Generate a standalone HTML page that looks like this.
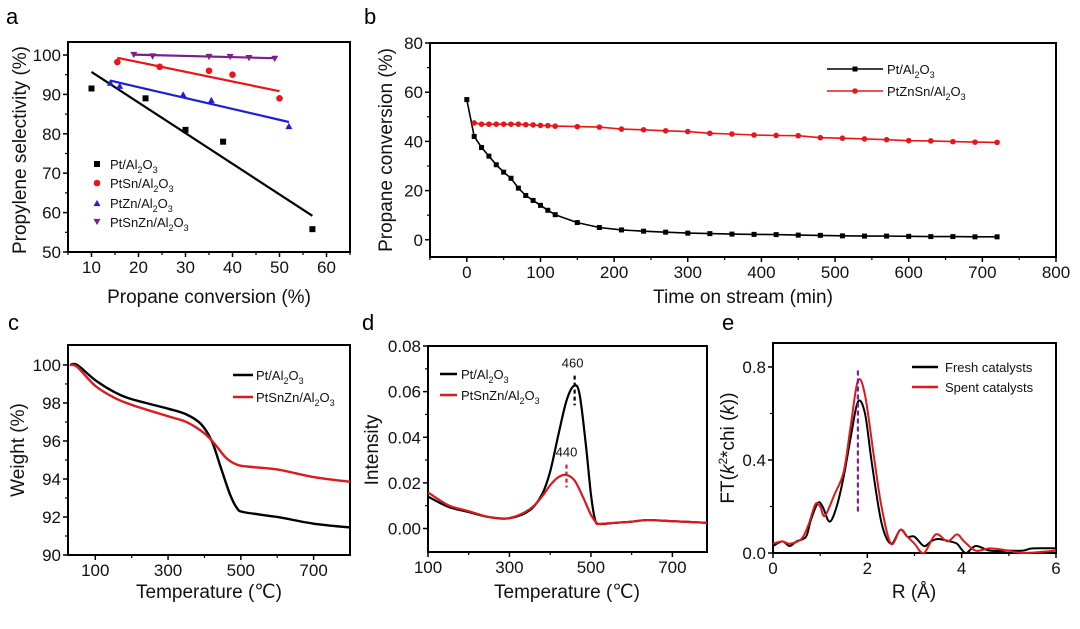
<!DOCTYPE html>
<html><head><meta charset="utf-8"><style>
html,body{margin:0;padding:0;background:#fff;}
svg{display:block;font-family:"Liberation Sans",Arial,sans-serif;}
</style></head><body>
<svg id="s" width="1080" height="629" viewBox="0 0 1080 629" xmlns="http://www.w3.org/2000/svg">
<rect width="1080" height="629" fill="#fff"/>
<g font-size="22" fill="#000">
<text x="6" y="24">a</text><text x="364" y="24">b</text>
<text x="8" y="330">c</text><text x="362" y="330">d</text><text x="722" y="330">e</text>
</g>
<g font-size="19" fill="#111" text-anchor="middle">
<text x="209" y="303">Propane conversion (%)</text>
<text transform="translate(26,150) rotate(-90)">Propylene selectivity (%)</text>
<text x="743" y="303">Time on stream (min)</text>
<text transform="translate(392,150) rotate(-90)">Propane conversion (%)</text>
<text x="209" y="598">Temperature (℃)</text>
<text transform="translate(24,450) rotate(-90)">Weight (%)</text>
<text x="567" y="598">Temperature (℃)</text>
<text transform="translate(378,450) rotate(-90)">Intensity</text>
<text x="914" y="598">R (Å)</text>
<text transform="translate(734,448) rotate(-90)">FT(<tspan font-style="italic">k</tspan><tspan font-size="12" dy="-7">2</tspan><tspan dy="7">*chi (</tspan><tspan font-style="italic">k</tspan>))</text>
</g>
<g id="plots"></g>
</svg>
<script>
var NS="http://www.w3.org/2000/svg",G=document.getElementById("plots");
function el(t,a,txt){var e=document.createElementNS(NS,t);for(var k in a)e.setAttribute(k,a[k]);if(txt!==undefined)e.textContent=txt;G.appendChild(e);return e;}
function P(c){
 var sx=function(v){return c.L+(v-c.x0)/(c.x1-c.x0)*(c.R-c.L)},sy=function(v){return c.B-(v-c.y0)/(c.y1-c.y0)*(c.B-c.T)};
 c.sx=sx;c.sy=sy;
 el("rect",{x:c.L,y:c.T,width:c.R-c.L,height:c.B-c.T,fill:"none",stroke:"#000","stroke-width":2});
 c.xt.forEach(function(v){var x=sx(v);el("line",{x1:x,y1:c.B,x2:x,y2:c.B+5,stroke:"#000","stroke-width":1.5});el("text",{x:x,y:c.B+21,"font-size":17,"text-anchor":"middle",fill:"#111"},c.xf?c.xf(v):v);});
 (c.xm||[]).forEach(function(v){var x=sx(v);el("line",{x1:x,y1:c.B,x2:x,y2:c.B+3,stroke:"#000","stroke-width":1.2});});
 c.yt.forEach(function(v){var y=sy(v);el("line",{x1:c.L-5,y1:y,x2:c.L,y2:y,stroke:"#000","stroke-width":1.5});el("text",{x:c.L-7,y:y+6,"font-size":17,"text-anchor":"end",fill:"#111"},c.yf?c.yf(v):v);});
 (c.ym||[]).forEach(function(v){var y=sy(v);el("line",{x1:c.L-3,y1:y,x2:c.L,y2:y,stroke:"#000","stroke-width":1.2});});
 return c;
}
function line(c,pts,col,w,dash){var d=pts.map(function(p,i){return (i?"L":"M")+c.sx(p[0]).toFixed(1)+","+c.sy(p[1]).toFixed(1)}).join("");var a={d:d,fill:"none",stroke:col,"stroke-width":w||2,"stroke-linejoin":"round"};if(dash)a["stroke-dasharray"]=dash;el("path",a);}
function sq(x,y,s,col){el("rect",{x:x-s/2,y:y-s/2,width:s,height:s,fill:col});}
function ci(x,y,r,col){el("circle",{cx:x,cy:y,r:r,fill:col});}
function tri(x,y,s,col,down){var h=s*0.9;var p=down?[[x-s/2,y-h/2],[x+s/2,y-h/2],[x,y+h/2]]:[[x-s/2,y+h/2],[x+s/2,y+h/2],[x,y-h/2]];el("polygon",{points:p.map(function(q){return q.join(",")}).join(" "),fill:col});}
function leg(x,y,txt){var t=el("text",{x:x,y:y+5,"font-size":13,fill:"#111"});t.innerHTML=txt;}
var AL='Al<tspan font-size="9" dy="4">2</tspan><tspan dy="-4">O</tspan><tspan font-size="9" dy="4">3</tspan>';
function rng(a,b,s){var r=[];for(var v=a;v<=b+1e-9;v+=s)r.push(Math.round(v*1000)/1000);return r;}

// a
var a=P({L:68,R:350,T:42,B:252,x0:5,x1:65,y0:50,y1:103.3,xt:[10,20,30,40,50,60],xm:rng(5,65,10),yt:[50,60,70,80,90,100],ym:rng(55,95,10)});
line(a,[[10,95.7],[57,59.2]],"#000",2.2);line(a,[[15.5,99.3],[50,90.8]],"#e8161b",2.2);line(a,[[14,93.5],[52,83]],"#1f1fd6",2.2);line(a,[[19,100.1],[49,99.2]],"#7b1f8a",2.2);
[[10,91.5],[21.5,89],[30,81],[38,78],[57,55.8]].forEach(function(p){sq(a.sx(p[0]),a.sy(p[1]),6,"#000")});
[[15.5,98.2],[24.5,97],[35,96],[40,95],[50,89]].forEach(function(p){ci(a.sx(p[0]),a.sy(p[1]),3.3,"#e8161b")});
[[14,93],[16,92.2],[29.5,90],[35.5,88.6],[52,82]].forEach(function(p){tri(a.sx(p[0]),a.sy(p[1]),7,"#1f1fd6")});
[[19,100],[23,99.6],[35,99.5],[39.5,99.5],[43.5,99.2],[49,99]].forEach(function(p){tri(a.sx(p[0]),a.sy(p[1]),7,"#7b1f8a",true)});
sq(97,164,6,"#000");leg(110,164,"Pt/"+AL);ci(97,183,3.3,"#e8161b");leg(110,183,"PtSn/"+AL);tri(97,203,7,"#1f1fd6");leg(110,203,"PtZn/"+AL);tri(97,222,7,"#7b1f8a",true);leg(110,222,"PtSnZn/"+AL);

// b
var b=P({L:430,R:1056,T:43,B:257,x0:-50,x1:800,y0:-7,y1:80,xt:[0,100,200,300,400,500,600,700,800],xm:rng(-50,750,100),yt:[0,20,40,60,80],ym:[10,30,50,70]});
var bk=[[0,57],[10,42],[20,37.5],[30,34],[40,30.5],[50,27.5],[60,25],[70,21],[80,18],[90,16],[100,14],[110,12],[120,10.2],[150,7],[180,5],[210,4],[240,3.5],[270,3.1],[300,2.7],[330,2.5],[360,2.3],[390,2.2],[420,2.1],[450,1.9],[480,1.8],[510,1.6],[540,1.5],[570,1.5],[600,1.4],[630,1.3],[660,1.3],[690,1.2],[720,1.2]];
var rd=[[10,47.5],[20,47],[30,47],[40,47],[50,47],[60,47],[70,47],[80,46.8],[90,46.7],[100,46.5],[110,46.4],[120,46.2],[150,46],[180,45.8],[210,45],[240,44.7],[270,44.3],[300,44],[330,43.3],[360,43],[390,42.6],[420,42.4],[450,42.3],[480,41.5],[510,41.3],[540,41],[570,40.7],[600,40.3],[630,40.2],[660,39.9],[690,39.7],[720,39.6]];
line(b,bk,"#000",1.6);bk.forEach(function(p){sq(b.sx(p[0]),b.sy(p[1]),5,"#000")});
line(b,rd,"#e8161b",1.6);rd.forEach(function(p){ci(b.sx(p[0]),b.sy(p[1]),2.8,"#e8161b")});
el("line",{x1:827,y1:69,x2:883,y2:69,stroke:"#000","stroke-width":1.6});sq(855,69,5,"#000");leg(887,69,"Pt/"+AL);
el("line",{x1:827,y1:91,x2:883,y2:91,stroke:"#e8161b","stroke-width":1.6});ci(855,91,2.8,"#e8161b");leg(887,91,"PtZnSn/"+AL);

// c
var c=P({L:68,R:350,T:345,B:555,x0:25,x1:800,y0:90,y1:101.05,xt:[100,300,500,700],xm:[200,400,600],yt:[90,92,94,96,98,100],ym:[91,93,95,97,99]});
function smooth(c,pts,col,w){var d="",n=pts.length;for(var i=0;i<n;i++){var p=[c.sx(pts[i][0]),c.sy(pts[i][1])];if(!i){d="M"+p;continue;}var p0=i>1?[c.sx(pts[i-2][0]),c.sy(pts[i-2][1])]:[c.sx(pts[i-1][0]),c.sy(pts[i-1][1])],p1=[c.sx(pts[i-1][0]),c.sy(pts[i-1][1])],p3=i<n-1?[c.sx(pts[i+1][0]),c.sy(pts[i+1][1])]:p;var c1=[p1[0]+(p[0]-p0[0])/6,p1[1]+(p[1]-p0[1])/6],c2=[p[0]-(p3[0]-p1[0])/6,p[1]-(p3[1]-p1[1])/6];d+="C"+c1+" "+c2+" "+p;}el("path",{d:d,fill:"none",stroke:col,"stroke-width":w,"stroke-linejoin":"round"});}
smooth(c,[[30,100],[50,100],[100,99.2],[150,98.6],[200,98.2],[300,97.7],[350,97.4],[390,96.9],[420,96.0],[445,94.6],[470,93.2],[490,92.45],[510,92.25],[600,92.0],[700,91.65],[800,91.45]],"#000",2.4);
smooth(c,[[30,100],[50,99.9],[100,98.9],[150,98.3],[200,97.9],[300,97.3],[350,97.0],[400,96.4],[430,95.8],[460,95.1],[490,94.75],[520,94.65],[600,94.5],[700,94.1],[800,93.85]],"#d91a1f",2.4);
el("line",{x1:233,y1:375,x2:253,y2:375,stroke:"#000","stroke-width":2.4});leg(256,375,"Pt/"+AL);
el("line",{x1:233,y1:397,x2:253,y2:397,stroke:"#d91a1f","stroke-width":2.4});leg(256,397,"PtSnZn/"+AL);

// d
var d=P({L:428,R:707,T:346,B:552,x0:100,x1:785,y0:-0.0103,y1:0.08,xt:[100,300,500,700],xm:[200,400,600],yt:[0,0.02,0.04,0.06,0.08],ym:[0.01,0.03,0.05,0.07],yf:function(v){return v.toFixed(2)}});
var tail=[[520,0.002],[560,0.0025],[600,0.003],[640,0.0037],[700,0.0032],[785,0.0025]];
smooth(d,[[100,0.014],[150,0.0095],[200,0.0072],[250,0.005],[300,0.0045],[350,0.008],[380,0.015],[400,0.025],[420,0.041],[440,0.056],[458,0.0625],[472,0.059],[488,0.036],[500,0.015],[510,0.004]].concat(tail),"#000",2.2);
smooth(d,[[100,0.0158],[150,0.0102],[200,0.0076],[250,0.005],[300,0.0046],[350,0.0085],[380,0.014],[400,0.019],[420,0.0225],[440,0.0235],[460,0.021],[480,0.014],[500,0.006],[515,0.0022]].concat(tail),"#d91a1f",2.2);
el("line",{x1:d.sx(460),y1:d.sy(0.067),x2:d.sx(460),y2:d.sy(0.054),stroke:"#000","stroke-width":2.2,"stroke-dasharray":"4,3"});
el("line",{x1:d.sx(440),y1:d.sy(0.028),x2:d.sx(440),y2:d.sy(0.018),stroke:"#d91a1f","stroke-width":2.2,"stroke-dasharray":"4,3"});
el("text",{x:d.sx(455),y:d.sy(0.0705),"font-size":13,"text-anchor":"middle",fill:"#111"},"460");
el("text",{x:d.sx(440),y:d.sy(0.0315),"font-size":13,"text-anchor":"middle",fill:"#111"},"440");
el("line",{x1:440,y1:374,x2:457,y2:374,stroke:"#000","stroke-width":2.4});leg(461,374,"Pt/"+AL);
el("line",{x1:440,y1:395,x2:457,y2:395,stroke:"#d91a1f","stroke-width":2.4});leg(461,395,"PtSnZn/"+AL);

// e
var e=P({L:773,R:1056,T:343,B:553,x0:0,x1:6,y0:0,y1:0.903,xt:[0,2,4,6],xm:[1,3,5],yt:[0,0.4,0.8],ym:[0.2,0.6],yf:function(v){return v.toFixed(1)}});
smooth(e,[[0,0.03],[0.2,0.05],[0.35,0.03],[0.5,0.05],[0.7,0.07],[0.8,0.14],[0.95,0.215],[1.05,0.2],[1.2,0.135],[1.35,0.2],[1.5,0.33],[1.65,0.5],[1.8,0.65],[1.95,0.6],[2.1,0.38],[2.3,0.13],[2.5,0.04],[2.7,0.1],[2.85,0.07],[3.0,0.07],[3.2,0.03],[3.35,0.05],[3.5,0.06],[3.75,0.05],[3.9,0.04],[4.0,0.015],[4.1,0.0],[4.3,0.03],[4.6,0.01],[5.0,0.01],[5.3,0.01],[5.5,0.02],[6,0.02]],"#000",2);
smooth(e,[[0,0.04],[0.2,0.05],[0.35,0.04],[0.6,0.06],[0.75,0.12],[0.9,0.21],[1.0,0.2],[1.1,0.16],[1.3,0.25],[1.5,0.35],[1.65,0.55],[1.8,0.74],[1.95,0.68],[2.15,0.4],[2.3,0.2],[2.5,0.04],[2.7,0.1],[2.85,0.07],[3.0,0.04],[3.2,0.0],[3.45,0.08],[3.7,0.05],[3.9,0.08],[4.05,0.05],[4.3,0.01],[4.6,0.02],[5.0,0.01],[5.3,0.0],[6,0.01]],"#d91a1f",2);
el("line",{x1:e.sx(1.8),y1:e.sy(0.785),x2:e.sx(1.8),y2:e.sy(0.17),stroke:"#7b1f8a","stroke-width":2.2,"stroke-dasharray":"5,3"});
el("line",{x1:912,y1:367,x2:938,y2:367,stroke:"#000","stroke-width":2.4});leg(945,367,"Fresh catalysts");
el("line",{x1:912,y1:387,x2:938,y2:387,stroke:"#d91a1f","stroke-width":2.4});leg(945,387,"Spent catalysts");
</script>
</body></html>
